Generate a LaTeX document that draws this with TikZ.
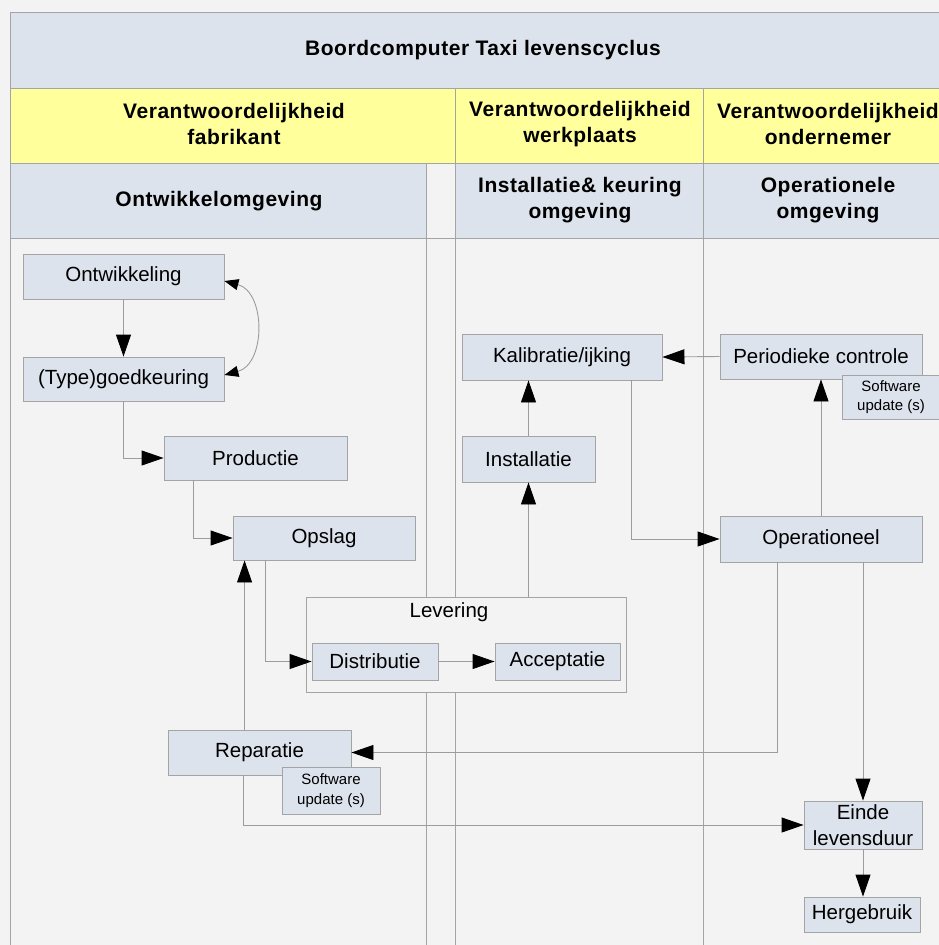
\documentclass[tikz,border=0pt]{standalone}
\usepackage{fontspec}
\setmainfont{Liberation Sans}
\newfontfamily\hdrfamily[LetterSpace=2.6]{Liberation Sans}
\usetikzlibrary{arrows.meta,calc}
\definecolor{lanebg}{HTML}{F3F3F3}
\definecolor{boxfill}{HTML}{DDE3EC}
\definecolor{hdryellow}{HTML}{FFFF9C}
\definecolor{edgegray}{HTML}{A4A4A4}
\definecolor{linegray}{HTML}{9C9C9C}
\newcommand\boxfnt{\fontsize{20.5}{26}\selectfont}
\newcommand\notefnt{\fontsize{15}{19.5}\selectfont}
\newcommand\hdrfnt{\hdrfamily\fontsize{21}{26}\selectfont\bfseries}
\begin{document}
\begin{tikzpicture}[x=1pt,y=-1pt,
  box/.style={draw=edgegray,fill=boxfill,line width=0.9pt,inner sep=0pt,align=center,font=\boxfnt},
  note/.style={box,font=\notefnt},
  hdr/.style={align=center,inner sep=0pt,font=\hdrfnt},
  band/.style={draw=edgegray,line width=0.9pt},
  arr/.style={draw=linegray,line width=0.9pt,-{Triangle[length=22pt,width=15pt,color=black,fill=black]}},
  arrboth/.style={draw=linegray,line width=0.9pt,
    {Triangle[length=14pt,width=11pt,color=black,fill=black]}-{Triangle[length=14pt,width=11pt,color=black,fill=black]}}
]
\useasboundingbox (0,0) rectangle (939,945);
\fill[lanebg] (0,0) rectangle (939,945);
\clip (0,0) rectangle (939,945);

% pool title and lane headers
\draw[band,fill=boxfill] (10,12) rectangle (953,88);
\draw[band,fill=hdryellow] (10,88) rectangle (455,163);
\draw[band,fill=hdryellow] (455,88) rectangle (703,163);
\draw[band,fill=hdryellow] (703,88) rectangle (953,163);
\draw[band,fill=boxfill] (10,163) rectangle (426,238);
\draw[band,fill=lanebg] (426,163) rectangle (455,238);
\draw[band,fill=boxfill] (455,163) rectangle (703,238);
\draw[band,fill=boxfill] (703,163) rectangle (953,238);

% lane bodies
\draw[band] (10,238) -- (953,238);
\draw[band] (10,238) -- (10,960);
\draw[band] (426,238) -- (426,960);
\draw[band] (455,238) -- (455,960);
\draw[band] (703,238) -- (703,960);

\node[hdr] (title) at (483,50) {Boordcomputer Taxi levenscyclus};
\node[hdr] (lanefab) at (234,124) {Verantwoordelijkheid\\fabrikant};
\node[hdr] (lanewerk) at (580,124) {Verantwoordelijkheid\\werkplaats};
\node[hdr] (laneond) at (828,124) {Verantwoordelijkheid\\ondernemer};
\node[hdr] (subontw) at (219,201) {Ontwikkelomgeving};
\node[hdr] (subinst) at (580,200) {Installatie\& keuring\\omgeving};
\node[hdr] (subop) at (828,200) {Operationele\\omgeving};

% process steps
\node[box,minimum width=201,minimum height=45] (ontw) at (123.5,276.5) {Ontwikkeling};
\node[box,minimum width=201,minimum height=44] (goed) at (123.5,379) {(Type)goedkeuring};
\node[box,minimum width=183,minimum height=44] (prod) at (255.5,458) {Productie};
\node[box,minimum width=182,minimum height=44] (opslag) at (324,538) {Opslag};
\node[box,minimum width=200,minimum height=46] (kal) at (562,357) {Kalibratie/ijking};
\node[box,minimum width=202,minimum height=45] (per) at (821,356.5) {Periodieke controle};
\node[note,minimum width=98,minimum height=44] (note1) at (891,397) {Software\\update (s)};
\node[box,minimum width=133,minimum height=46] (inst) at (528.5,459) {Installatie};
\node[box,minimum width=202,minimum height=46] (oper) at (821,539) {Operationeel};

% delivery group
\node[draw=edgegray,fill=lanebg,line width=0.9pt,minimum width=320,minimum height=95,inner sep=0pt] (lev) at (466,644.5) {};
\node[inner sep=0pt,font=\boxfnt] (levlabel) at (449,612) {Levering};
\node[box,minimum width=126,minimum height=37] (distr) at (375,661.5) {Distributie};
\node[box,minimum width=125,minimum height=37] (acc) at (557.5,661.5) {Acceptatie};

\node[box,minimum width=183,minimum height=45] (rep) at (259.5,752.5) {Reparatie};
\node[note,minimum width=98,minimum height=47] (note2) at (331,790.5) {Software\\update (s)};
\node[box,minimum width=118,minimum height=48] (einde) at (863,825) {Einde\\levensduur};
\node[box,minimum width=116,minimum height=35] (herg) at (862,914.5) {Hergebruik};

% connectors
\draw[arr] (ontw.south) -- (goed.north);
\draw[arrboth] ([yshift=-4.5]ontw.east) .. controls (266,292) and (266,364) .. ([yshift=4]goed.east);
\draw[arr] (goed.south) |- (prod.west);
\draw[arr] ([xshift=30]prod.south west) |- (opslag.west);
\draw[arr] ([xshift=33]opslag.south west) |- (distr.west);
\draw[arr] (distr.east) -- (acc.west);
\draw[arr] (inst.south |- lev.north) -- (inst.south);
\draw[arr] (inst.north) -- (inst.north |- kal.south);
\draw[arr] (per.west) -- (kal.east);
\draw[arr] ([xshift=-31]kal.south east) |- (oper.west);
\draw[arr] (oper.north) -- (oper.north |- per.south);
\draw[arr] ([xshift=58]oper.south west) |- (rep.east);
\draw[arr] (oper.south -| einde.north) -- (einde.north);
\coordinate (repup) at ([xshift=77]rep.north west);
\draw[arr] (repup) -- (repup |- opslag.south);
\draw[arr] ([xshift=76]rep.south west) |- (einde.west);
\draw[arr] (einde.south) -- (einde.south |- herg.north);
\end{tikzpicture}
\end{document}
